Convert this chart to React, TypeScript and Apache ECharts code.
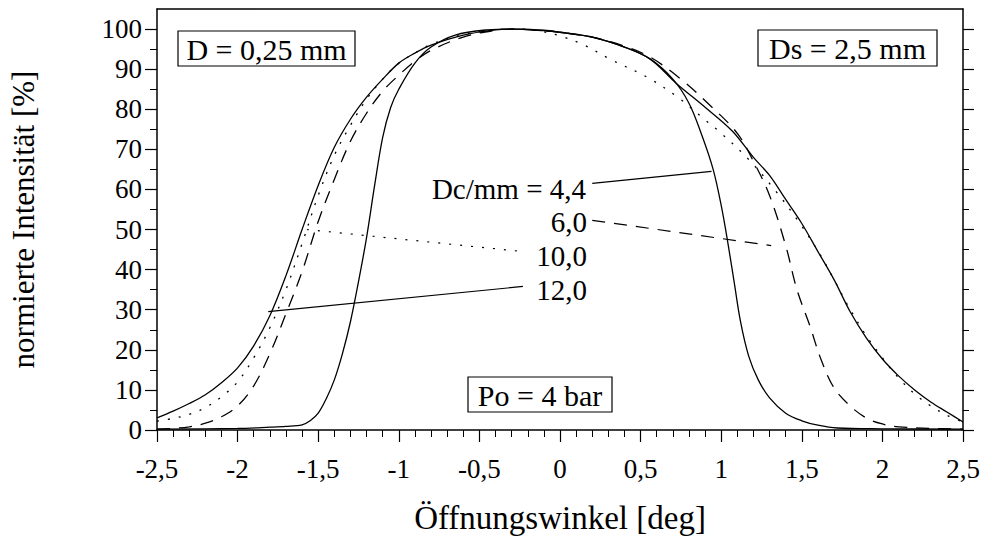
import React, { useEffect, useRef } from "react";
import * as echarts from "echarts";

const FONT = "Liberation Serif";

// x ticks
const xMin = -2.5;
const xMax = 2.5;
const xStep = 0.5;
// y ticks
const yMajorTicks = [0, 10, 20, 30, 40, 50, 60, 70, 80, 90, 100];
const yMinorTicks = [5, 15, 25, 35, 45, 55, 65, 75, 85, 95];

// Dc = 4,4 mm (narrow solid)
const x44 = [-2.5, -2.0, -1.8, -1.7, -1.6, -1.55, -1.5, -1.45, -1.4, -1.35, -1.3, -1.25, -1.2, -1.15, -1.1, -1.05, -1.0, -0.9, -0.8, -0.65, -0.45, -0.3, -0.1, 0, 0.2, 0.4, 0.56, 0.7, 0.8, 0.88, 0.95, 1.0, 1.04, 1.08, 1.12, 1.17, 1.23, 1.3, 1.4, 1.5, 1.6, 1.72, 2.0, 2.5];
const y44 = [0.2, 0.4, 0.7, 0.9, 1.3, 2.3, 4.2, 7.8, 12.5, 19, 27, 37, 48, 61, 73, 80.5, 85, 91.5, 95.5, 98.5, 99.8, 100, 99.6, 99.2, 98, 95.5, 92.5, 87.5, 81.5, 73.5, 65, 56, 47, 37, 27, 18.5, 12.5, 8, 4.2, 2.3, 1.2, 0.5, 0.3, 0.2];

// Dc = 6,0 mm (dashed)
const x60 = [-2.5, -2.4, -2.3, -2.2, -2.1, -2.0, -1.9, -1.8, -1.7, -1.6, -1.5, -1.4, -1.3, -1.2, -1.1, -1.0, -0.9, -0.8, -0.6, -0.4, -0.3, -0.1, 0, 0.2, 0.4, 0.56, 0.75, 0.93, 1.1, 1.2, 1.3, 1.4, 1.47, 1.55, 1.62, 1.7, 1.8, 1.9, 2.0, 2.1, 2.3, 2.5];
const y60 = [0.2, 0.4, 0.8, 1.7, 3.3, 6, 11, 19, 29, 39.5, 52, 62.5, 72, 79, 84.5, 88.5, 92, 94.7, 98, 99.7, 100, 99.6, 99.2, 98, 95.7, 93, 87.5, 81, 74, 67, 58.5, 46, 35, 26, 17.5, 10.5, 6, 3, 1.5, 0.8, 0.4, 0.2];

// Dc = 10,0 mm (dotted)
const x100 = [-2.5, -2.4, -2.3, -2.2, -2.1, -2.0, -1.9, -1.8, -1.7, -1.6, -1.5, -1.4, -1.3, -1.2, -1.1, -1.0, -0.9, -0.8, -0.6, -0.4, -0.25, -0.1, 0, 0.15, 0.31, 0.54, 0.73, 0.91, 1.0, 1.17, 1.34, 1.48, 1.61, 1.7, 1.78, 1.9, 2.0, 2.1, 2.2, 2.3, 2.4, 2.5];
const y100 = [2.2, 2.9, 3.9, 5.6, 8.3, 12, 18, 25.5, 35, 46.5, 58.5, 68.5, 76, 82.5, 87.5, 91.5, 94, 96.2, 98.6, 99.8, 100, 99.3, 98.3, 96, 92.5, 88, 83, 77, 74, 67.5, 59.5, 52, 44, 37.5, 31.5, 23.5, 18, 13, 9, 6, 3.7, 2];

// Dc = 12,0 mm (wide solid)
const x120 = [-2.5, -2.4, -2.3, -2.2, -2.1, -2.0, -1.9, -1.8, -1.7, -1.6, -1.5, -1.4, -1.3, -1.2, -1.1, -1.0, -0.9, -0.8, -0.6, -0.4, -0.25, -0.1, 0, 0.2, 0.4, 0.56, 0.72, 0.9, 1.07, 1.2, 1.3, 1.4, 1.5, 1.6, 1.7, 1.8, 1.9, 2.0, 2.1, 2.2, 2.3, 2.4, 2.5];
const y120 = [3, 4.7, 6.6, 8.8, 11.8, 15.5, 21, 28.5, 38.5, 50, 61, 70.5, 77.5, 83, 87.5, 91.5, 94, 96, 98.5, 99.8, 100, 99.7, 99.2, 98, 95.5, 92.5, 86.5, 80.5, 74.5, 68, 63.5, 57.5, 51.5, 44.5, 37.5, 29.5, 23, 17.7, 13.5, 10, 7, 4.5, 2];

// leader lines (data coordinates)
const leader44 = [[0.2, 61.5], [0.94, 64.5]];
const leader60 = [[0.2, 52.3], [1.31, 46]];
const leader100 = [[-1.57, 50], [-0.23, 44.5]];
const leader120 = [[-1.81, 29.5], [-0.23, 35.8]];

const curveLabels = ["Dc/mm = 4,4", "6,0", "10,0", "12,0"];
const boxTexts = ["D = 0,25 mm", "Ds = 2,5 mm", "Po = 4 bar"];

const zip = (xs: number[], ys: number[]) => xs.map((x, i) => [x, ys[i]]);

export default function App() {
  const ref = useRef<HTMLDivElement>(null);
  useEffect(() => {
    if (!ref.current) return;
    const chart = echarts.init(ref.current, null, { renderer: "svg" });
    const black = "#000";
    const lineSeries = (data: number[][], type: any, width = 1.3) => ({
      type: "line",
      data,
      showSymbol: false,
      symbol: "none",
      smooth: 0.35,
      lineStyle: { color: black, width, type },
      xAxisIndex: 0,
      yAxisIndex: 0,
      silent: true,
    });
    const leaderSeries = (data: number[][], type: any) => ({
      type: "line",
      data,
      showSymbol: false,
      symbol: "none",
      lineStyle: { color: black, width: 1.2, type },
      xAxisIndex: 0,
      yAxisIndex: 0,
      silent: true,
    });
    const txt = (text: string, x: number, y: number, size: number, align: string) => ({
      type: "text",
      x,
      y,
      style: { text, fontFamily: FONT, fontSize: size, fill: black, align, verticalAlign: "middle" },
    });
    const tickFont = { fontFamily: FONT, fontSize: 27, color: black };
    const yAxisBase = { type: "value", min: 0, max: 105, splitLine: { show: false } };
    const option: any = {
      animation: false,
      backgroundColor: "#fff",
      textStyle: { fontFamily: FONT },
      grid: { left: 157, right: 20, top: 9, bottom: 109, containLabel: false, outerBoundsMode: "none" },
      xAxis: [
        {
          type: "value",
          min: xMin,
          max: xMax,
          interval: xStep,
          position: "bottom",
          axisLine: { show: true, onZero: false, lineStyle: { color: black, width: 1.5 } },
          axisTick: { show: true, length: 12, lineStyle: { color: black, width: 1.2 } },
          minorTick: { show: true, splitNumber: 5, length: 7, lineStyle: { color: black, width: 1 } },
          axisLabel: {
            ...tickFont,
            margin: 25,
            formatter: (v: number) => String(v).replace(".", ","),
          },
          splitLine: { show: false },
          name: "Öffnungswinkel [deg]",
          nameLocation: "middle",
          nameGap: 71,
          nameTextStyle: { fontFamily: FONT, fontSize: 33, color: black },
        },
        {
          type: "value",
          min: xMin,
          max: xMax,
          position: "top",
          axisLine: { show: true, onZero: false, lineStyle: { color: black, width: 1.5 } },
          axisTick: { show: false },
          axisLabel: { show: false },
          splitLine: { show: false },
        },
      ],
      yAxis: [
        {
          ...yAxisBase,
          position: "left",
          axisLine: { show: true, onZero: false, lineStyle: { color: black, width: 1.5 } },
          axisTick: { show: true, length: 12, customValues: yMajorTicks, lineStyle: { color: black, width: 1.2 } },
          axisLabel: { ...tickFont, margin: 15, customValues: yMajorTicks },
          name: "normierte Intensität [%]",
          nameLocation: "middle",
          nameGap: 118,
          nameTextStyle: { fontFamily: FONT, fontSize: 31, color: black },
        },
        {
          ...yAxisBase,
          position: "left",
          axisLine: { show: false, onZero: false },
          axisTick: { show: true, length: 7, customValues: yMinorTicks, lineStyle: { color: black, width: 1 } },
          axisLabel: { show: false },
        },
        {
          ...yAxisBase,
          position: "right",
          axisLine: { show: true, onZero: false, lineStyle: { color: black, width: 1.5 } },
          axisTick: { show: true, length: 11, customValues: yMajorTicks, lineStyle: { color: black, width: 1.2 } },
          axisLabel: { show: false },
        },
        {
          ...yAxisBase,
          position: "right",
          axisLine: { show: false, onZero: false },
          axisTick: { show: true, length: 6, customValues: yMinorTicks, lineStyle: { color: black, width: 1 } },
          axisLabel: { show: false },
        },
      ],
      series: [
        lineSeries(zip(x44, y44), "solid"),
        lineSeries(zip(x60, y60), [13, 9]),
        lineSeries(zip(x100, y100), [2, 9]),
        lineSeries(zip(x120, y120), "solid"),
        leaderSeries(leader44, "solid"),
        leaderSeries(leader60, [13, 9]),
        leaderSeries(leader100, [2, 9]),
        leaderSeries(leader120, "solid"),
      ],
      graphic: [
        { type: "rect", shape: { x: 178, y: 31, width: 177, height: 35 }, style: { fill: "#fff", stroke: black, lineWidth: 1.2 } },
        txt(boxTexts[0], 266.5, 49, 30, "center"),
        { type: "rect", shape: { x: 758, y: 30, width: 179, height: 36 }, style: { fill: "#fff", stroke: black, lineWidth: 1.2 } },
        txt(boxTexts[1], 847.5, 48, 30, "center"),
        { type: "rect", shape: { x: 468, y: 377, width: 144, height: 35 }, style: { fill: "#fff", stroke: black, lineWidth: 1.2 } },
        txt(boxTexts[2], 540, 395, 30, "center"),
        txt(curveLabels[0], 586, 189, 29, "right"),
        txt(curveLabels[1], 587, 222, 29, "right"),
        txt(curveLabels[2], 587, 256, 29, "right"),
        txt(curveLabels[3], 587, 290, 29, "right"),
      ],
    };
    chart.setOption(option);
    return () => chart.dispose();
  }, []);
  return (
    <div
      ref={ref}
      style={{ position: "fixed", left: 0, top: 0, width: 983, height: 539, background: "#fff" }}
    />
  );
}
